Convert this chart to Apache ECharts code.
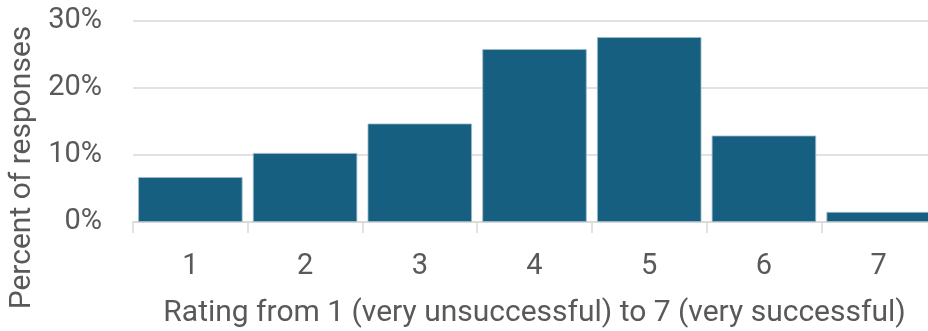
<!DOCTYPE html>
<html>
<head>
<meta charset="utf-8">
<script src="https://cdn.jsdelivr.net/npm/echarts@6/dist/echarts.min.js"></script>
<style>
  html, body { margin: 0; padding: 0; background: #fff; }
  #chart { width: 928px; height: 331px; }
</style>
</head>
<body>
<div id="chart"></div>
<script>
// Share of responses for each rating (percent)
const ratings = ['1', '2', '3', '4', '5', '6', '7'];
const percentResponses = [6.7, 10.3, 14.7, 25.8, 27.6, 12.9, 1.5];
const yTicks = [0, 10, 20, 30];

const textColor = '#595959';
const font = 'Roboto';
const labelSize = 29;
const nameSize = 30;

const chart = echarts.init(document.getElementById('chart'), null, { renderer: 'canvas' });
chart.setOption({
  animation: false,
  grid: {
    left: 133, top: 21, width: 803, height: 201,
    containLabel: false, outerBoundsMode: 'none'
  },
  xAxis: {
    type: 'category',
    data: ratings,
    name: 'Rating from 1 (very unsuccessful) to 7 (very successful)',
    nameLocation: 'middle',
    nameGap: 76,
    nameTextStyle: { color: textColor, fontFamily: font, fontSize: nameSize },
    axisLine: { lineStyle: { color: '#d9d9d9', width: 1.5 } },
    axisTick: { show: true, length: 11, lineStyle: { color: '#d9d9d9', width: 1.5 } },
    axisLabel: { color: textColor, fontFamily: font, fontSize: labelSize, margin: 30 }
  },
  yAxis: {
    type: 'value',
    min: yTicks[0],
    max: yTicks[yTicks.length - 1],
    interval: 10,
    name: 'Percent of responses',
    nameLocation: 'middle',
    nameGap: 88,
    nameRotate: 90,
    // extra right padding pushes the rotated title down below the plot's midpoint
    nameTextStyle: { color: textColor, fontFamily: font, fontSize: nameSize, padding: [0, 92, 0, 0] },
    axisLine: { show: false },
    axisTick: { show: false },
    splitLine: { lineStyle: { color: '#d9d9d9', width: 1.5 } },
    axisLabel: {
      color: textColor, fontFamily: font, fontSize: labelSize, margin: 31,
      padding: [6, 0, 0, 0],
      formatter: v => v + '%'
    }
  },
  series: [{
    type: 'bar',
    data: percentResponses,
    barCategoryGap: '9%',
    itemStyle: { color: '#175f80', borderColor: '#9fbccb', borderWidth: 0.8 }
  }]
});
</script>
</body>
</html>
